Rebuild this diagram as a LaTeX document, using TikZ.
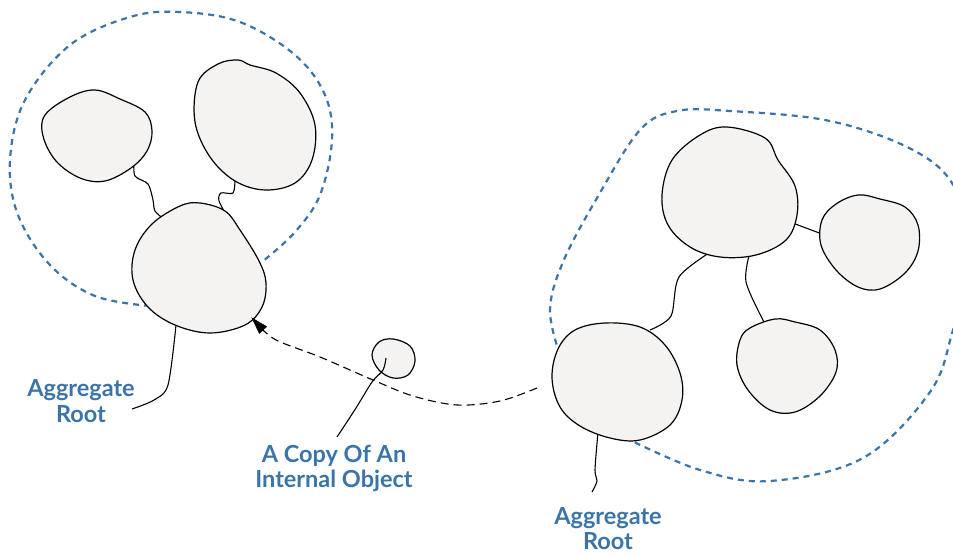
\documentclass[tikz,border=0pt]{standalone}
\usepackage{fontspec}
\setmainfont{Lato}
\usetikzlibrary{arrows.meta,calc}
\definecolor{aggblue}{RGB}{58,116,168}
\definecolor{blobfill}{RGB}{244,243,241}
\tikzset{
  blob/.style={draw=black, fill=blobfill, line width=1.2pt},
  wire/.style={draw=black, line width=1.1pt},
  boundary/.style={draw=aggblue, line width=2.2pt, dash pattern=on 6pt off 5pt},
  copyarrow/.style={draw=black, line width=1.1pt, dash pattern=on 8pt off 5pt},
  lbl/.style={text=aggblue, font=\fontsize{23.5}{25.5}\selectfont\bfseries, align=center, inner sep=0pt}
}
\begin{document}
\begin{tikzpicture}[x=1pt,y=-1pt]
\useasboundingbox (0,0) rectangle (953,556);
\clip (0,0) rectangle (953,556);
% left boundary
\draw[boundary] plot[smooth, tension=0.6] coordinates {(150,306) (95,296) (50,265) (18,215) (10,160) (25,100) (70,45) (130,17) (180,12) (240,22) (295,55) (325,95) (332,140) (320,195) (295,232) (262,262)};
% right boundary
\draw[boundary] plot[smooth, tension=0.6] coordinates {(560,355) (550,310) (563,262) (597,198) (640,130) (677,111) (730,111) (830,121) (913,150) (955,188) (972,255) (953,330) (930,392) (863,458) (770,481) (700,470) (630,440)};
% connectors left group
\draw[wire] plot[smooth, tension=0.5] coordinates {(134,160) (135,176) (148,184) (153,200) (155,211) (165,220)};
\draw[wire] plot[smooth, tension=0.5] coordinates {(235,180) (233,193) (221,193) (219,201) (227,216)};
\draw[wire] plot[smooth, tension=0.5] coordinates {(176,325) (168,385) (154,400) (132,409)};
% connectors right group
\draw[wire] (790,222) -- (822,234);
\draw[wire] plot[smooth, tension=0.5] coordinates {(750,252) (746,282) (764,322)};
\draw[wire] plot[smooth, tension=0.5] coordinates {(712,251) (679,277) (671,316) (650,330)};
\draw[wire] plot[smooth, tension=0.5] coordinates {(598,432) (595,470) (597,481) (592,492)};
% left blobs
\path[blob] plot[smooth cycle, tension=0.6] coordinates {(45,115) (70,97) (95,90) (120,99) (145,112) (152,131) (147,151) (131,168) (105,181) (80,178) (56,161) (43,136)};
\path[blob] plot[smooth cycle, tension=0.6] coordinates {(198,82) (218,64) (238,60) (250,65) (276,73) (300,93) (315,125) (312,160) (295,183) (265,190) (235,181) (210,157) (195,122)};
\path[blob] plot[smooth cycle, tension=0.6] coordinates {(152,224) (180,206) (200,203) (225,211) (240,230) (259,261) (266,283) (262,307) (245,325) (210,333) (175,325) (148,307) (133,280) (135,250)};
% right blobs
\path[blob] plot[smooth cycle, tension=0.6] coordinates {(575,330) (605,323) (640,327) (665,345) (680,373) (682,400) (670,425) (640,440) (610,438) (580,426) (560,407) (552,378) (558,349)};
\path[blob] plot[smooth cycle, tension=0.6] coordinates {(700,135) (727,127) (765,138) (778,160) (795,186) (797,215) (786,240) (756,255) (720,257) (690,247) (668,225) (662,195) (672,160)};
\path[blob] plot[smooth cycle, tension=0.6] coordinates {(836,204) (858,195) (880,199) (905,207) (918,225) (918,251) (905,273) (880,289) (858,287) (836,270) (821,245) (822,220)};
\path[blob] plot[smooth cycle, tension=0.6] coordinates {(750,328) (775,319) (795,322) (820,330) (835,350) (836,372) (820,396) (795,412) (770,410) (748,390) (737,365) (740,340)};
% copy blob
\path[blob] plot[smooth cycle, tension=0.6] coordinates {(379,342) (393,339) (410,346) (415,361) (408,375) (393,378) (379,370) (372,355)};
\draw[wire] plot[smooth, tension=0.5] coordinates {(386,358) (383,370) (372,382) (356,408) (337,437)};
% copy arrow
\coordinate (arrowstart) at (537,388);
\coordinate (arrowend) at (252,318);
\coordinate (arrowneck) at (263,330);
\draw[copyarrow] plot[smooth, tension=0.55] coordinates {(arrowstart) (500,401) (457,405) (413,396) (373,380) (320,357) (278,341) (arrowneck)};
\draw[fill=black, line width=0.5pt] (arrowend) -- ($(arrowneck)!5pt!90:(arrowend)$) -- ($(arrowneck)!5pt!-90:(arrowend)$) -- cycle;
% labels
\node[lbl] (aggL) at (81,401) {Aggregate\\Root};
\node[lbl] (copyL) at (334,468.5) {A Copy Of An\\Internal Object};
\node[lbl, text depth=0pt, anchor=south] (aggR) at (608,550) {Aggregate\\Root};
\end{tikzpicture}
\end{document}
